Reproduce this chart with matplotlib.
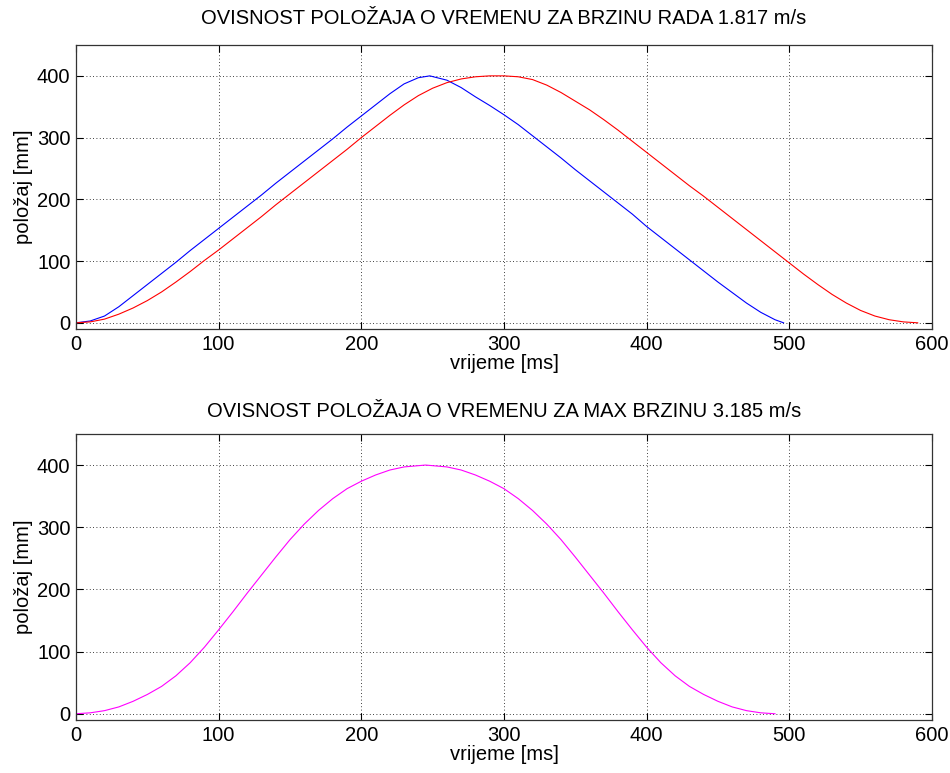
import matplotlib
matplotlib.use("Agg")
import matplotlib.pyplot as plt

plt.rcParams['font.family'] = ['Liberation Sans', 'DejaVu Sans']

# top plot: blue (brzina rada), red
t_blue = [0, 10, 20, 30, 40, 50, 60, 70, 80, 90, 100, 110, 120, 130, 140, 150,
          160, 170, 180, 190, 200, 210, 220, 230, 240, 248, 260, 270, 280, 290,
          300, 310, 320, 330, 340, 350, 360, 370, 380, 390, 400, 410, 420, 430,
          440, 450, 460, 470, 480, 490, 496]
v_blue = [0, 3, 11, 26, 44, 62, 80, 98, 117, 135, 153, 171, 189, 207, 226, 244,
          262, 280, 298, 317, 335, 353, 371, 387, 397, 400, 393, 381, 366, 352,
          337, 321, 303, 285, 267, 248, 230, 212, 194, 176, 156, 138, 120, 102,
          84, 66, 49, 32, 17, 5, 0]

t_red = [0, 10, 20, 30, 40, 50, 60, 70, 80, 90, 100, 110, 120, 130, 140, 150,
         160, 170, 180, 190, 200, 210, 220, 230, 240, 250, 260, 270, 280, 290,
         300, 310, 320, 330, 340, 350, 360, 370, 380, 390, 400, 410, 420, 430,
         440, 450, 460, 470, 480, 490, 500, 510, 520, 530, 540, 550, 560, 570,
         580, 590]
v_red = [0, 1.5, 6, 14, 24, 36, 50, 66, 83, 101, 118, 136, 154, 172, 191, 209,
         227, 245, 263, 281, 300, 318, 336, 353, 368, 380, 389, 395, 398.5, 400,
         400, 398.5, 394, 385, 373, 359, 345, 329, 312, 294, 276, 258, 240, 222,
         205, 187, 169, 151, 133, 115, 97, 79, 62, 46, 32, 20, 11, 5, 1.5, 0]

# bottom plot: max brzina
t_mag = [0, 10, 20, 30, 40, 50, 60, 70, 80, 90, 100, 110, 120, 130, 140, 150,
         160, 170, 180, 190, 200, 210, 220, 230, 240, 245, 250, 260, 270, 280,
         290, 300, 310, 320, 330, 340, 350, 360, 370, 380, 390, 400, 410, 420,
         430, 440, 450, 460, 470, 480, 490]
v_mag = [0, 1.5, 5, 11, 20, 31, 44, 61, 82, 107, 135, 164, 194, 223, 252, 280,
         305, 327, 346, 362, 374, 384, 392, 397, 399, 400, 399, 397, 392, 384,
         374, 362, 346, 327, 305, 280, 252, 223, 194, 164, 135, 107, 82, 61,
         44, 31, 20, 11, 5, 1.5, 0]

titles = ["OVISNOST POLOŽAJA O VREMENU ZA BRZINU RADA 1.817 m/s",
          "OVISNOST POLOŽAJA O VREMENU ZA MAX BRZINU 3.185 m/s"]
xticks = [0, 100, 200, 300, 400, 500, 600]
yticks = [0, 100, 200, 300, 400]

fs = 14.5
fig = plt.figure(figsize=(9.5, 7.73), dpi=100)
ax1 = fig.add_axes([0.08, 0.5744, 0.901, 0.3674])
ax2 = fig.add_axes([0.08, 0.0686, 0.901, 0.3700])

ax1.plot(t_blue, v_blue, color=(0, 0, 1), lw=0.8)
ax1.plot(t_red, v_red, color=(1, 0, 0), lw=0.8)
ax2.plot(t_mag, v_mag, color=(1, 0, 1), lw=0.8)

for ax, title in zip([ax1, ax2], titles):
    ax.set_xlim(0, 600)
    ax.set_ylim(-10, 450)
    ax.set_xticks(xticks)
    ax.set_yticks(yticks)
    ax.grid(True, linestyle=(0, (1, 3)), color='black', lw=0.6)
    ax.tick_params(direction='in', top=True, right=True, length=5,
                   labelsize=fs, width=0.8, pad=4)
    for s in ax.spines.values():
        s.set_color('#333333')
        s.set_linewidth(0.9)
    ax.set_xlabel("vrijeme [ms]", fontsize=fs, labelpad=0)
    ax.set_ylabel("položaj [mm]", fontsize=fs, labelpad=3)

ax1.set_title(titles[0], fontsize=fs, pad=15)
ax2.set_title(titles[1], fontsize=fs, pad=12)

fig.savefig("out.png", dpi=100)
